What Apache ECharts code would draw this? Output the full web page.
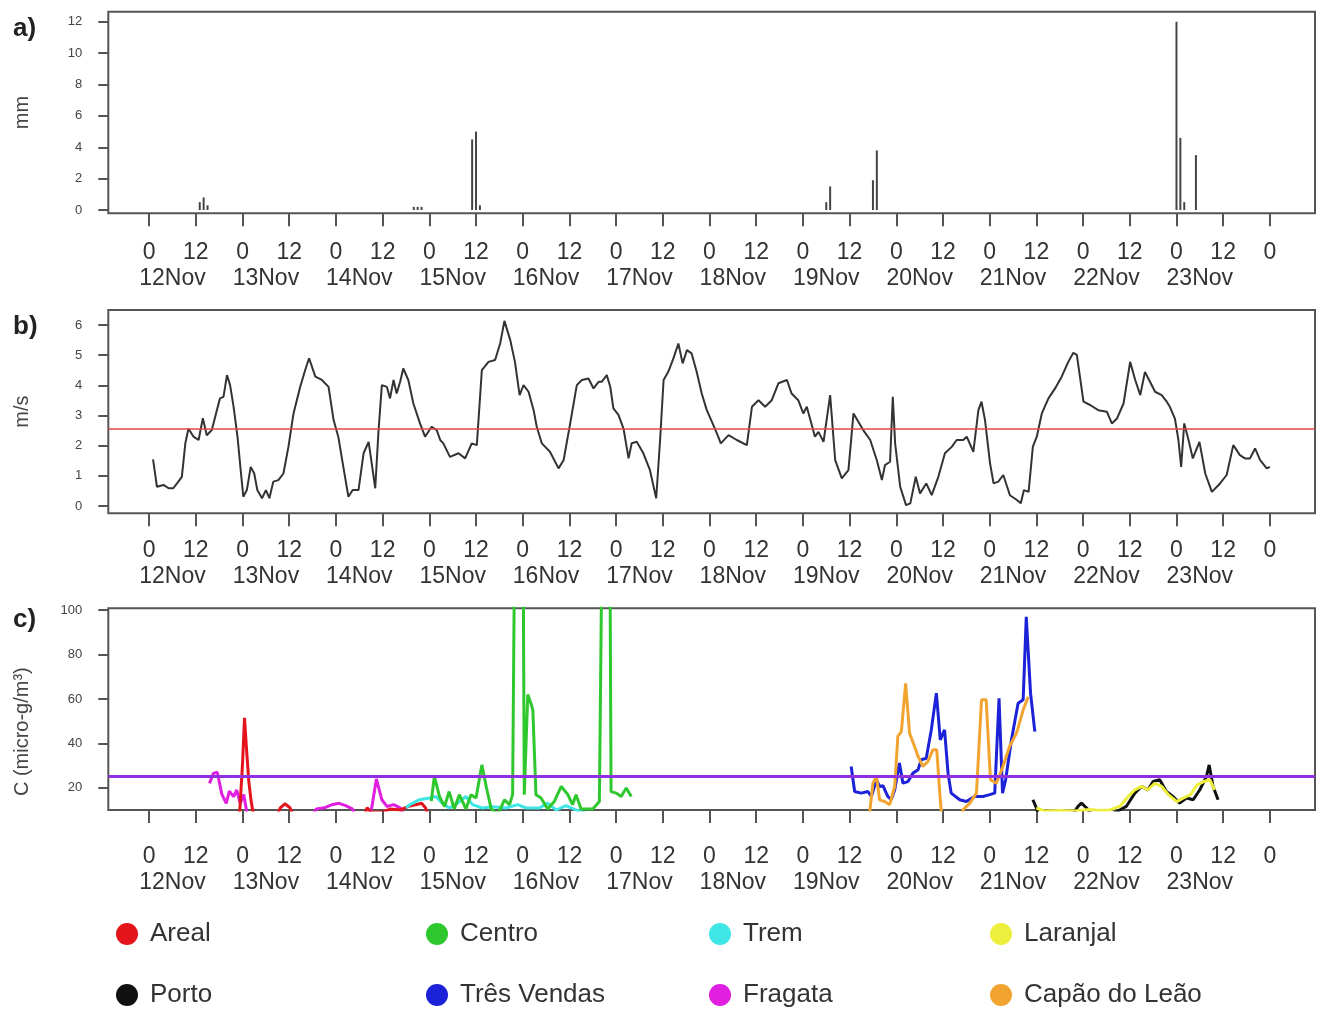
<!DOCTYPE html>
<html>
<head>
<meta charset="utf-8">
<script src="https://cdn.jsdelivr.net/npm/echarts@6/dist/echarts.min.js"></script>
<style>html,body{margin:0;padding:0;background:#fff}#chart{width:1317px;height:1014px}</style>
</head>
<body>
<div id="chart"></div>
<script>
// ---------- data (hours counted from 12 Nov 00:00) ----------
const dayLabels = ['12Nov','13Nov','14Nov','15Nov','16Nov','17Nov','18Nov','19Nov','20Nov','21Nov','22Nov','23Nov'];

// a) precipitation (mm)
const rainHours = [13,14,15,68,69,70,83,84,85,174,175,186,187,264,265,266,269];
const rainMm    = [0.5,0.8,0.3,0.2,0.2,0.2,4.5,5.0,0.3,0.5,1.5,1.9,3.8,12.0,4.6,0.5,3.5];

// b) wind speed (m/s) [hour, value]
const windSpeed = [[1.0,1.55],[2.0,0.64],[3.7,0.70],[5.0,0.59],[6.2,0.59],[7.5,0.81],[8.4,0.97],[9.3,2.08],[10.1,2.57],[11.4,2.30],[12.7,2.19],[13.8,2.91],[14.8,2.35],[16.1,2.52],[17.4,3.18],[18.2,3.57],[19.1,3.62],[20.0,4.34],[20.8,4.01],[21.7,3.29],[22.7,2.30],[23.6,1.08],[24.2,0.31],[25.1,0.53],[26.1,1.30],[27.0,1.08],[27.8,0.53],[29.0,0.26],[30.0,0.53],[30.9,0.26],[31.9,0.81],[33.2,0.86],[34.5,1.08],[35.8,1.97],[37.1,3.07],[38.8,3.95],[40.1,4.51],[41.1,4.90],[42.7,4.29],[44.4,4.18],[46.1,3.95],[47.4,2.85],[48.6,2.30],[49.9,1.30],[51.2,0.31],[52.3,0.53],[53.8,0.53],[55.1,1.75],[56.4,2.13],[57.2,1.41],[58.1,0.59],[58.9,2.41],[59.8,4.01],[61.1,3.95],[61.9,3.57],[62.8,4.18],[63.6,3.73],[64.5,4.12],[65.3,4.56],[66.6,4.18],[67.9,3.40],[69.6,2.74],[70.9,2.30],[72.6,2.63],[73.9,2.52],[74.8,2.19],[75.6,2.08],[77.3,1.63],[79.5,1.75],[81.2,1.58],[82.9,2.08],[84.2,2.02],[85.5,4.51],[87.2,4.78],[88.9,4.84],[90.2,5.39],[91.3,6.14],[92.8,5.50],[94.0,4.78],[95.2,3.68],[96.2,4.01],[97.5,3.79],[98.8,3.18],[99.6,2.63],[100.9,2.08],[103.0,1.80],[105.2,1.25],[106.5,1.52],[108.2,2.74],[109.9,4.01],[111.2,4.18],[112.9,4.23],[114.2,3.90],[115.5,4.12],[116.3,4.12],[117.6,4.34],[118.5,3.95],[119.3,3.24],[120.6,3.02],[121.9,2.57],[123.2,1.58],[124.0,2.08],[125.3,2.13],[127.0,1.75],[128.7,1.19],[130.3,0.26],[131.3,2.19],[132.2,4.18],[133.4,4.45],[134.7,4.89],[136.0,5.39],[137.1,4.73],[138.2,5.17],[139.4,5.06],[140.7,4.45],[142.0,3.73],[143.3,3.18],[144.6,2.80],[145.9,2.41],[146.9,2.08],[148.9,2.35],[151.0,2.19],[153.6,2.02],[154.9,3.29],[156.6,3.51],[158.3,3.29],[160.0,3.51],[161.7,4.07],[163.9,4.18],[165.1,3.73],[166.8,3.51],[168.1,3.07],[169.0,3.29],[171.1,2.30],[172.0,2.46],[173.3,2.13],[175.0,3.68],[176.3,1.52],[178.0,0.92],[179.7,1.19],[181.0,3.07],[183.5,2.52],[185.3,2.19],[187.0,1.52],[188.3,0.86],[189.1,1.36],[190.4,1.47],[191.1,3.62],[191.7,2.08],[193.0,0.64],[194.5,0.03],[195.6,0.09],[197.0,0.97],[198.1,0.42],[199.7,0.75],[201.1,0.36],[202.8,0.97],[204.5,1.75],[206.3,1.97],[207.5,2.19],[209.2,2.19],[210.1,2.30],[211.8,1.80],[213.1,3.18],[213.9,3.46],[214.8,2.85],[216.1,1.41],[217.0,0.75],[218.2,0.81],[219.5,1.03],[221.2,0.36],[223.0,0.20],[224.0,0.09],[224.8,0.53],[226.0,0.47],[227.1,1.97],[228.1,2.30],[229.4,3.07],[231.1,3.57],[232.8,3.90],[234.5,4.29],[236.2,4.78],[237.5,5.08],[238.4,5.01],[240.1,3.46],[241.8,3.35],[243.9,3.18],[246.1,3.13],[247.4,2.74],[248.7,2.90],[250.4,3.40],[252.1,4.78],[253.4,4.18],[254.7,3.68],[255.9,4.45],[257.2,4.12],[258.5,3.79],[260.2,3.68],[261.5,3.46],[262.3,3.29],[263.6,2.90],[264.5,2.19],[265.2,1.30],[266.0,2.74],[267.1,2.19],[268.2,1.58],[269.9,2.13],[271.4,1.08],[273.1,0.47],[275.2,0.75],[276.9,1.03],[278.6,2.02],[280.3,1.69],[281.6,1.58],[282.9,1.58],[284.2,1.91],[285.5,1.52],[287.2,1.25],[288.0,1.30]];
const windReference = 2.55;

// c) concentration (micro-g/m3) per station [hour, value]
const fragata = [[15.5,22],[16.5,26.5],[17.5,27],[18.7,17],[19.8,13],[20.6,18.5],[21.7,16],[22.5,19],[23.4,13],[24.3,17],[25.2,8],[26.5,5],[41,5],[43,10.5],[45,11],[47.2,12.5],[48.8,13],[50.5,12],[52.2,10.5],[53.5,6],[56,6],[57.2,11],[58.4,24],[59.8,14.6],[61.1,11.6],[62.8,12.4],[64.5,11],[66,6]];
const areal = [[22.5,5],[23.3,10],[24.0,31],[24.5,51.5],[25.0,38],[25.6,23],[26.2,14],[27.0,6],[32.5,6],[33.7,11],[34.9,12.8],[36.2,11],[37.5,6],[55,6],[56,11],[57,9],[60,9],[62,10.5],[64.5,10],[66.5,11.5],[68.5,12.4],[70,13],[71,11],[72,6]];
const trem = [[66,11],[67,12.4],[69.4,14.6],[72,15.4],[73.7,16.1],[75.3,13],[77.1,10.9],[79.2,13],[81.4,16.1],[83.1,12.4],[85.6,10.9],[88.2,11.5],[91.7,10.9],[94.7,12.4],[96.9,10.9],[100.3,10.9],[102.4,13.1],[104.6,10],[107.1,12],[109.7,10],[113.1,8]];
const centro = [[72.5,14],[73.3,25.1],[74.6,16.1],[75.9,11.6],[77.1,18.3],[78.4,10.5],[79.7,16.9],[81.4,10.5],[82.7,16.9],[84.0,15.4],[85.5,30.3],[86.7,19.9],[87.9,10.5],[89.6,8],[91.3,14.6],[92.6,12.4],[93.4,16.9],[94.1,170],[96.0,170],[96.4,16.9],[97.3,62],[98.1,58],[98.6,55],[99.4,16.9],[100.7,15.4],[102.4,10.5],[104.1,13.8],[105.9,20.6],[107.6,16.9],[108.8,12.4],[109.7,16.9],[111.0,10.5],[114.0,10.5],[115.7,13.8],[116.6,170],[118.3,170],[118.7,18.3],[120.0,17.6],[121.3,16.1],[122.6,19.9],[123.9,16.1]];
const tresVendas = [[180.4,29.6],[181.3,18.3],[183.0,17.6],[184.7,18.3],[185.6,16.1],[186.9,23.6],[187.7,20.6],[188.6,20.9],[189.8,16.1],[190.7,14.6],[191.6,19.1],[192.8,31.1],[193.7,22.1],[195.0,22.8],[196.3,26.6],[197.6,28.1],[198.4,32.6],[199.7,33.3],[201.0,46.1],[202.3,62.6],[203.3,41.6],[204.4,46.1],[205.3,26.6],[206.1,17.6],[208.3,14.6],[210.0,13.8],[212.1,16.1],[214.3,16.1],[216.0,16.9],[217.3,17.6],[218.4,60.3],[219.3,17.6],[220.1,23.6],[221.6,41.6],[223.3,58.1],[224.6,59.6],[225.4,97],[226.5,62.6],[227.6,45.3]];
const capaoDoLeao = [[185.1,8],[186.0,22.1],[186.9,25.1],[187.7,14.6],[189.0,13.8],[190.3,12.4],[191.6,20.6],[192.4,43.1],[193.3,45.3],[194.4,67],[195.4,44.6],[196.7,38.6],[197.6,34.1],[198.8,29.6],[200.1,31.8],[201.4,37.1],[202.4,37.1],[203.3,14.6],[203.8,5],[208.5,5],[209.1,10],[210.9,13.1],[212.6,17.6],[213.9,59.6],[215.1,59.6],[216.2,23.6],[217.7,22],[219.4,29.6],[221.1,38.6],[222.9,44.6],[224.6,55],[225.9,61]];
const porto = [[227.1,14.6],[228.0,10.9],[228.8,6],[236.6,6],[237.9,9.5],[238.7,11.6],[239.6,13.1],[240.9,10.9],[242.2,8],[247.4,8],[249.4,10],[251.1,11.6],[253.3,17.6],[255.0,20.6],[256.7,19.1],[258.0,22.8],[259.7,23.6],[261.4,18.3],[263.1,16.1],[264.8,13.1],[266.6,15.4],[268.3,14.6],[270.0,19.1],[271.7,25],[272.4,30.3],[273.4,20.6],[274.7,14.6]];
const laranjal = [[228.0,10.9],[230.1,9.5],[234.0,9.8],[237.9,9.5],[241.7,10.2],[244.3,9.8],[246.8,10],[249.4,11.6],[251.6,16.1],[253.3,19.1],[255.0,20.6],[256.7,19.1],[258.4,22],[260.2,20.6],[261.9,16.9],[264.1,13.8],[265.8,15.4],[267.6,16.9],[269.3,21.3],[271.0,22.8],[272.6,23.6],[273.8,19.1]];
const concentrationLimit = 25;

const stationNames  = ['Fragata','Areal','Trem','Centro','Três Vendas','Capão do Leão','Porto','Laranjal'];
const stationData   = [fragata, areal, trem, centro, tresVendas, capaoDoLeao, porto, laranjal];
const stationColors = ['#e01ee0','#e3141c','#3ee6e6','#2ec82e','#1c22d8','#f2a431','#111111','#eeee3c'];
const legendColumns = [['Areal','Porto'],['Centro','Três Vendas'],['Trem','Fragata'],['Laranjal','Capão do Leão']];

// ---------- layout ----------
const FONT = "'Liberation Sans', Arial, Helvetica, sans-serif";
const X_MIN = -10.5, X_MAX = 299.6;
const tickHours = [];
for (let h = 0; h <= 288; h += 12) tickHours.push(h);
const dayMidHours = dayLabels.map((d, i) => i * 24 + 6);

const gridDefs = [
  {top: 11.7, height: 201.6},
  {top: 310, height: 203.3},
  {top: 608.3, height: 201.7}
];
const labelMargins = [26, 24.5, 33.5];
const yDefs = [
  {min: -0.21, max: 12.64, ticks: [0,2,4,6,8,10,12], name: 'mm', pad: [0,0,0,0]},
  {min: -0.24, max: 6.5, ticks: [0,1,2,3,4,5,6], name: 'm/s', pad: [0,0,0,0]},
  {min: 10, max: 100.8, ticks: [20,40,60,80,100], name: 'C (micro-g/m³)', pad: [0,45,0,0]}
];

const grid = gridDefs.map(g => ({
  left: 108.3, right: 2, top: g.top, height: g.height,
  show: true, borderColor: '#555', borderWidth: 2, backgroundColor: 'transparent'
}));

const labelFont = {fontSize: 23, lineHeight: 26, color: '#333', fontFamily: FONT};
const xAxis = [];
gridDefs.forEach((g, i) => {
  // hour axis
  xAxis.push({
    type: 'value', gridIndex: i, min: X_MIN, max: X_MAX, position: 'bottom',
    axisLine: {show: false, onZero: false},
    splitLine: {show: false},
    axisTick: {show: true, customValues: tickHours, length: 13, lineStyle: {color: '#555', width: 2}},
    axisLabel: Object.assign({customValues: tickHours, margin: labelMargins[i],
      showMinLabel: true, showMaxLabel: true,
      formatter: v => String(Math.round(v) % 24)}, labelFont)
  });
  // date axis (labels only)
  xAxis.push({
    type: 'value', gridIndex: i, min: X_MIN, max: X_MAX, position: 'bottom',
    axisLine: {show: false, onZero: false},
    splitLine: {show: false},
    axisTick: {show: false},
    axisLabel: Object.assign({customValues: dayMidHours, margin: labelMargins[i] + 26,
      showMinLabel: true, showMaxLabel: true,
      formatter: v => dayLabels[Math.round((v - 6) / 24)]}, labelFont)
  });
});

const yAxis = yDefs.map((y, i) => ({
  type: 'value', gridIndex: i, min: y.min, max: y.max, position: 'left',
  axisLine: {show: false, onZero: false},
  splitLine: {show: false},
  axisTick: {show: true, customValues: y.ticks, length: 10, lineStyle: {color: '#555', width: 2}},
  axisLabel: {customValues: y.ticks, margin: 26, fontSize: 13, color: '#444', fontFamily: FONT},
  name: y.name, nameLocation: 'middle', nameRotate: 90, nameGap: 76,
  nameTextStyle: {fontSize: 20, color: '#444', fontFamily: FONT, padding: y.pad}
}));

const series = [
  {
    type: 'bar', xAxisIndex: 0, yAxisIndex: 0, silent: true,
    data: rainHours.map((h, i) => [h, rainMm[i]]),
    barWidth: 2, itemStyle: {color: '#444'}
  },
  {
    type: 'line', xAxisIndex: 2, yAxisIndex: 1, silent: true,
    data: windSpeed, showSymbol: false,
    lineStyle: {color: '#333', width: 2},
    markLine: {silent: true, symbol: ['none','none'], label: {show: false},
      lineStyle: {color: '#e24848', width: 1.5, type: 'solid'},
      data: [{yAxis: windReference}]}
  }
];
stationNames.forEach((name, i) => {
  series.push({
    type: 'line', name: name, xAxisIndex: 4, yAxisIndex: 2, silent: true,
    data: stationData[i], showSymbol: false, clip: true,
    lineStyle: {color: stationColors[i], width: 3},
    itemStyle: {color: stationColors[i]}
  });
});
series.push({
  type: 'line', xAxisIndex: 4, yAxisIndex: 2, silent: true, data: [], z: 5,
  markLine: {silent: true, symbol: ['none','none'], label: {show: false},
    lineStyle: {color: '#9030e0', width: 3, type: 'solid'},
    data: [{yAxis: concentrationLimit}]}
});

const legendLefts = [116, 426, 709, 990];
const legend = legendColumns.map((names, i) => ({
  orient: 'vertical', left: legendLefts[i], top: 921, padding: 0,
  data: names, icon: 'circle', itemWidth: 22, itemHeight: 22, itemGap: 35,
  selectedMode: false,
  textStyle: {fontSize: 26, lineHeight: 26, color: '#333', fontFamily: FONT, padding: [0,0,0,7]}
}));

const title = [
  {text: 'a)', left: 8, top: 11},
  {text: 'b)', left: 8, top: 309},
  {text: 'c)', left: 8, top: 602}
].map(t => Object.assign(t, {textStyle: {fontSize: 26, fontWeight: 'bold', color: '#222', fontFamily: FONT}}));

const chart = echarts.init(document.getElementById('chart'), null, {renderer: 'canvas'});
chart.setOption({
  animation: false,
  backgroundColor: '#fff',
  title, legend, grid, xAxis, yAxis, series
});
</script>
</body>
</html>
